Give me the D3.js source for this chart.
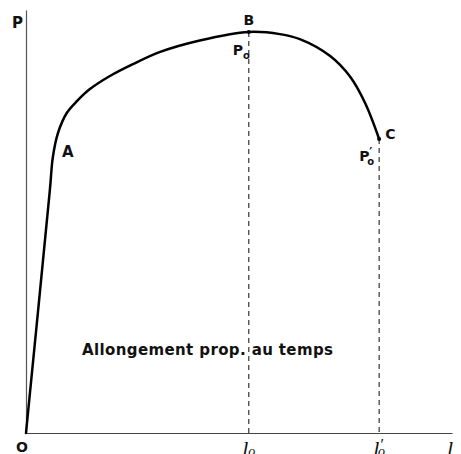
<!DOCTYPE html>
<html>
<head>
<meta charset="utf-8">
<script src="https://cdn.jsdelivr.net/npm/d3@7"></script>
<style>
  body { margin: 0; background: #fff; }
  .lbl { font-family: "DejaVu Sans", sans-serif; font-weight: bold; fill: #111; }
  .sym { font-family: "Liberation Serif", serif; font-style: italic; fill: #111; }
</style>
</head>
<body>
<div id="chart"></div>
<script>
// elongation (x) and load P (y)
const elongation = [0, 5.6, 6.3, 7.5, 9.6, 12.0, 15.0, 19.7, 25.1, 31.5, 40.8, 52.3, 59.6, 64.3, 71.4, 76.1, 79.6, 82.9];
const load       = [0, 57.4, 65.2, 70.9, 75.7, 78.5, 81.3, 84.4, 87.2, 90.1, 92.8, 94.8, 94.3, 93.1, 89.1, 84.2, 78.0, 69.5];

// marked points: A, B (max load), C (rupture)
const pointA = [6.3, 65.2];
const pointB = [52.3, 94.8];
const pointC = [82.9, 69.5];

const caption = "Allongement prop. au temps";

const width = 461, height = 454;
const margin = {top: 10, right: 9, bottom: 21, left: 26};

const svg = d3.select("#chart").append("svg")
    .attr("width", width)
    .attr("height", height);

const x = d3.scaleLinear().domain([0, 100]).range([margin.left, width - margin.right]);
const y = d3.scaleLinear().domain([0, 100]).range([height - margin.bottom, margin.top]);

// axes (no ticks, just the lines)
svg.append("g")
    .attr("transform", `translate(0,${y(0)})`)
    .call(d3.axisBottom(x).ticks(0).tickSizeOuter(0))
    .select(".domain").attr("stroke", "#444").attr("stroke-width", 1.2);

svg.append("g")
    .attr("transform", `translate(${x(0)},0)`)
    .call(d3.axisLeft(y).ticks(0).tickSizeOuter(0))
    .select(".domain").attr("stroke", "#555").attr("stroke-width", 1.2);

// dashed verticals from B and C
[pointB, pointC].forEach(p => {
    svg.append("line")
        .attr("x1", x(p[0])).attr("x2", x(p[0]))
        .attr("y1", y(p[1])).attr("y2", y(0))
        .attr("stroke", "#222")
        .attr("stroke-width", 1.1)
        .attr("stroke-dasharray", "5,4");
});

// the curve
const data = elongation.map((e, i) => ({e: e, p: load[i]}));

const line = d3.line()
    .x(d => x(d.e))
    .y(d => y(d.p))
    .curve(d3.curveCatmullRom.alpha(0.5));

svg.append("path")
    .datum(data)
    .attr("d", line)
    .attr("fill", "none")
    .attr("stroke", "#000")
    .attr("stroke-width", 2.5)
    .attr("stroke-linecap", "round");

svg.selectAll(".dot")
    .data([pointB, pointC])
    .enter()
    .append("circle")
    .attr("cx", d => x(d[0]))
    .attr("cy", d => y(d[1]))
    .attr("r", 2)
    .attr("fill", "#000");

// letters
function label(txt, px, py, size, anchor) {
    return svg.append("text")
        .attr("class", "lbl")
        .attr("x", px).attr("y", py)
        .attr("font-size", size)
        .attr("text-anchor", anchor || "start")
        .text(txt);
}

label("P", 12, 28, 15);
label("O", 16, 452, 14);
label("A", 62, 157, 15);
label("B", x(pointB[0]), y(pointB[1]) - 7, 14, "middle");
label("C", x(pointC[0]) + 6, y(pointC[1]), 14);

// P0 and P'0
let p0 = label("P", x(pointB[0]) - 16, y(pointB[1]) + 23, 14);
p0.append("tspan").attr("font-size", 10).attr("dy", 4).text("o");

label("P", x(pointC[0]) - 20, y(pointC[1]) + 22, 14);
label("′", x(pointC[0]) - 10, y(pointC[1]) + 17, 12);
label("o", x(pointC[0]) - 12, y(pointC[1]) + 26, 10);

// l0, l'0, l along the bottom
function sym(px, prime, sub) {
    let t = svg.append("text")
        .attr("class", "sym")
        .attr("x", px).attr("y", 456)
        .attr("font-size", 22)
        .attr("text-anchor", "middle")
        .text("l");
    if (prime) t.append("tspan").attr("font-size", 16).attr("dy", -6).text("′");
    if (sub) t.append("tspan").attr("font-size", 14).attr("dy", prime ? 6 : 0).attr("dx", prime ? -5 : 0).text("o");
    return t;
}
sym(x(pointB[0]), false, true);
sym(x(pointC[0]), true, true);
sym(x(100) - 2, false, false);

// caption
svg.append("text")
    .attr("class", "lbl")
    .attr("x", 82).attr("y", 355)
    .attr("font-size", 15)
    .attr("textLength", 251)
    .attr("lengthAdjust", "spacing")
    .text(caption);
</script>
</body>
</html>
